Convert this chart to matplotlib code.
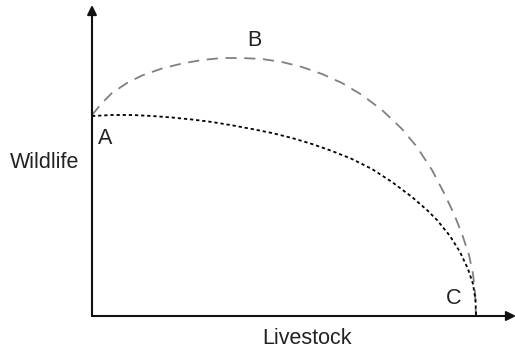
import matplotlib
matplotlib.use("Agg")
import matplotlib.pyplot as plt

plt.rcParams['font.family'] = ['Liberation Sans', 'DejaVu Sans']

# Curve B (dashed, gray): Livestock vs Wildlife
b_livestock = [0, 10, 20, 35, 50, 70, 90, 110, 130, 150, 170, 190, 210, 230, 250,
               270, 290, 310, 325, 340, 352, 362, 370, 377, 381, 383, 384]
b_wildlife = [201, 213, 223, 233, 240.5, 247.5, 252.5, 256, 258, 258, 257, 254, 249,
              242, 233, 221, 206, 187, 169, 146, 123, 102, 82, 61, 42, 24, 0]

# Curve A (dotted, black)
a_livestock = [0, 20, 40, 60, 80, 100, 120, 140, 160, 180, 200, 220, 240, 260, 280,
               300, 320, 335, 345, 358, 368, 376, 381, 383.5, 384]
a_wildlife = [200, 201, 201, 200, 198.5, 196.5, 194, 190.7, 187, 183, 178, 172, 165,
              157, 147, 134, 119, 106, 96, 80, 64, 47, 32, 16, 0]

labels = ["A", "B", "C"]
x_label = "Livestock"
y_label = "Wildlife"

W, H = 515, 351
fig = plt.figure(figsize=(W / 100, H / 100), dpi=100)
ax = fig.add_axes([92 / W, (H - 316) / H, 424 / W, 311 / H])
ax.set_xlim(0, 424)
ax.set_ylim(0, 311)
for s in ax.spines.values():
    s.set_visible(False)
ax.set_xticks([])
ax.set_yticks([])
ax.patch.set_alpha(0)

ax.plot(b_livestock, b_wildlife, color='#808080', lw=1.3,
        dashes=(6.2, 4.2), clip_on=False, solid_joinstyle='round')
ax.plot(a_livestock, a_wildlife, color='black', lw=1.3,
        dashes=(1.8, 1.6), clip_on=False)

# axes with arrows
ax.annotate('', xy=(1.0, 0), xytext=(0, 0), xycoords='axes fraction',
            arrowprops=dict(arrowstyle='-|>', color='#111111', lw=1.5,
                            mutation_scale=14, shrinkA=0, shrinkB=0))
ax.annotate('', xy=(0, 1.0), xytext=(0, 0), xycoords='axes fraction',
            arrowprops=dict(arrowstyle='-|>', color='#111111', lw=1.5,
                            mutation_scale=14, shrinkA=0, shrinkB=0))

def ptext(px, py, s):
    fig.text(px / W, 1 - py / H, s, ha='center', va='center',
             fontsize=15.5, color='#222222')

ptext(105, 139, labels[0])
ptext(254, 41, labels[1])
ptext(454, 299, labels[2])
ptext(307, 339, x_label)
ptext(45, 162, y_label)

fig.savefig("out.png", dpi=100)
